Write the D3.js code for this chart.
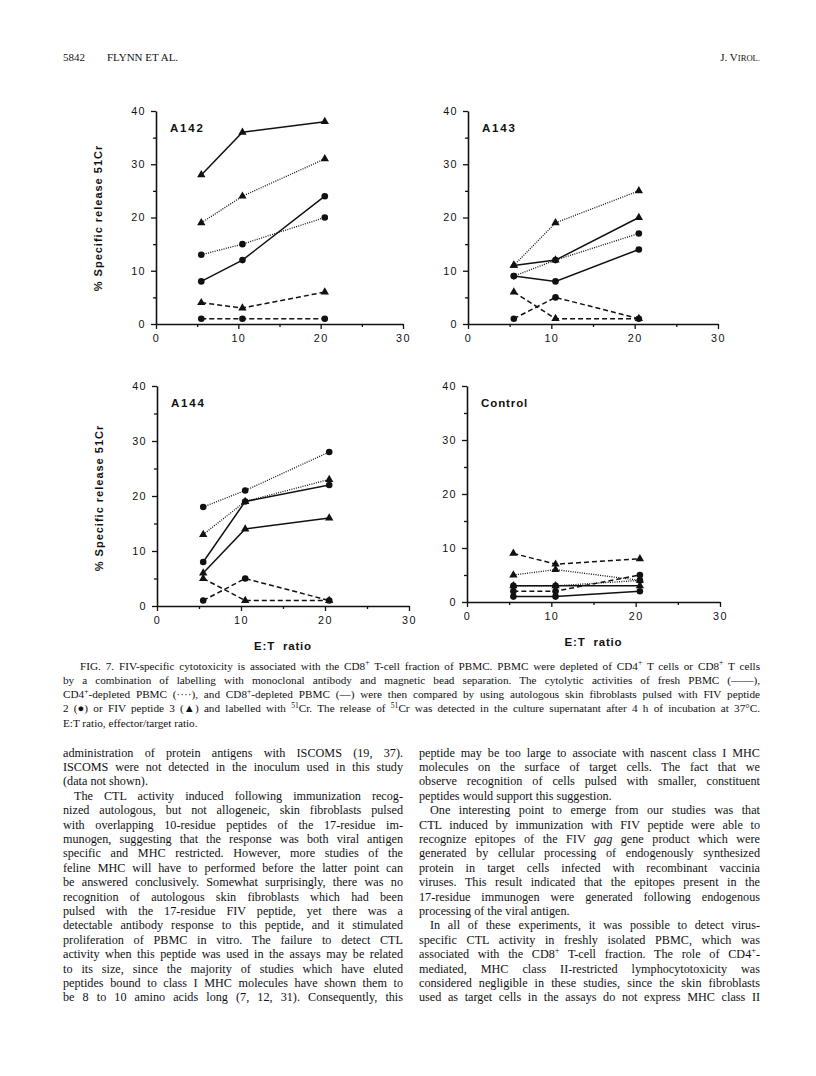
<!DOCTYPE html>
<html>
<head>
<meta charset="utf-8">
<script src="https://cdn.jsdelivr.net/npm/d3@7"></script>
<style>
	body { margin: 0; background: #fff; }
	svg { display: block; }
	.serif { font-family: "Liberation Serif", "Times New Roman", serif; fill: #111; }
	.sans { font-family: "Liberation Sans", Arial, sans-serif; fill: #111; }
</style>
</head>
<body>
<div id="page"></div>
<script>
// x values (E:T ratio)
const etRatio = [5.5, 10.5, 20.5];
const xTicks = [0, 10, 20, 30];
const xMinorTicks = [5, 15, 25];
const yTicks = [0, 10, 20, 30, 40];
const yMinorTicks = [5, 15, 25, 35];

const panelNames = ["A142", "A143", "A144", "Control"];
const cellTypes = ["fresh PBMC", "CD4+-depleted PBMC", "CD8+-depleted PBMC"];
const peptides = ["peptide 2", "peptide 3"];

// rows: fresh/p2, fresh/p3, CD4dep/p2, CD4dep/p3, CD8dep/p2, CD8dep/p3
const a142Release = [[8, 12, 24], [28, 36, 38], [13, 15, 20], [19, 24, 31], [1, 1, 1], [4, 3, 6]];
const a143Release = [[9, 8, 14], [11, 12, 20], [9, 12, 17], [11, 19, 25], [1, 5, 1], [6, 1, 1]];
const a144Release = [[8, 19, 22], [6, 14, 16], [18, 21, 28], [13, 19, 23], [1, 5, 1], [5, 1, 1]];
const controlRelease = [[1, 1, 2], [3, 3, 3], [3, 3, 4], [5, 6, 4], [2, 2, 5], [9, 7, 8]];

const yAxisTitle = "% Specific release 51Cr";
const xAxisTitle = "E:T\u00a0\u00a0ratio";

const headerLeft = ["5842", "FLYNN ET AL."];

const captionLines = [
	"FIG. 7. FIV-specific cytotoxicity is associated with the CD8^+^ T-cell fraction of PBMC. PBMC were depleted of CD4^+^ T cells or CD8^+^ T cells",
	"by a combination of labelling with monoclonal antibody and magnetic bead separation. The cytolytic activities of fresh PBMC (\u2014\u2014),",
	"CD4^+^-depleted PBMC (\u00b7\u00b7\u00b7\u00b7), and CD8^+^-depleted PBMC (\u2013\u2013) were then compared by using autologous skin fibroblasts pulsed with FIV peptide",
	"2 (\u25cf) or FIV peptide 3 (\u25b2) and labelled with ^51^Cr. The release of ^51^Cr was detected in the culture supernatant after 4 h of incubation at 37\u00b0C.",
	"E:T ratio, effector/target ratio.",
];

const leftColumnLines = [
	"administration of protein antigens with ISCOMS (19, 37).",
	"ISCOMS were not detected in the inoculum used in this study",
	"(data not shown).",
	"The CTL activity induced following immunization recog-",
	"nized autologous, but not allogeneic, skin fibroblasts pulsed",
	"with overlapping 10-residue peptides of the 17-residue im-",
	"munogen, suggesting that the response was both viral antigen",
	"specific and MHC restricted. However, more studies of the",
	"feline MHC will have to performed before the latter point can",
	"be answered conclusively. Somewhat surprisingly, there was no",
	"recognition of autologous skin fibroblasts which had been",
	"pulsed with the 17-residue FIV peptide, yet there was a",
	"detectable antibody response to this peptide, and it stimulated",
	"proliferation of PBMC in vitro. The failure to detect CTL",
	"activity when this peptide was used in the assays may be related",
	"to its size, since the majority of studies which have eluted",
	"peptides bound to class I MHC molecules have shown them to",
	"be 8 to 10 amino acids long (7, 12, 31). Consequently, this",
];
const leftParagraphStarts = [3];
const leftParagraphEnds = [2];

const rightColumnLines = [
	"peptide may be too large to associate with nascent class I MHC",
	"molecules on the surface of target cells. The fact that we",
	"observe recognition of cells pulsed with smaller, constituent",
	"peptides would support this suggestion.",
	"One interesting point to emerge from our studies was that",
	"CTL induced by immunization with FIV peptide were able to",
	"recognize epitopes of the FIV *gag* gene product which were",
	"generated by cellular processing of endogenously synthesized",
	"protein in target cells infected with recombinant vaccinia",
	"viruses. This result indicated that the epitopes present in the",
	"17-residue immunogen were generated following endogenous",
	"processing of the viral antigen.",
	"In all of these experiments, it was possible to detect virus-",
	"specific CTL activity in freshly isolated PBMC, which was",
	"associated with the CD8^+^ T-cell fraction. The role of CD4^+^-",
	"mediated, MHC class II-restricted lymphocytotoxicity was",
	"considered negligible in these studies, since the skin fibroblasts",
	"used as target cells in the assays do not express MHC class II",
];
const rightParagraphStarts = [4, 12];
const rightParagraphEnds = [3, 11];

const svg = d3
	.select("#page")
	.append("svg")
	.attr("width", 816)
	.attr("height", 1076)
	.attr("viewBox", [0, 0, 816, 1076]);

createHeader();

const panelBoxes = [
	{ left: 156, top: 111, width: 247, height: 213, yTitleY: 218 },
	{ left: 468, top: 111, width: 250, height: 213 },
	{ left: 157, top: 386, width: 252, height: 220, yTitleY: 498, xTitle: true },
	{ left: 467, top: 386, width: 253, height: 216, xTitle: true },
];
const panelData = [a142Release, a143Release, a144Release, controlRelease];

panelNames.forEach((name, i) => createPanel(name, panelData[i], panelBoxes[i]));

createTextBlock(captionLines, {
	x: 63,
	y: 669.5,
	width: 697,
	lineHeight: 14.3,
	fontSize: 11.2,
	indentLines: [0],
	indent: 17,
	ragged: [captionLines.length - 1],
});

createTextBlock(leftColumnLines, {
	x: 63,
	y: 756.5,
	width: 340,
	lineHeight: 14.4,
	fontSize: 12.2,
	indentLines: leftParagraphStarts,
	indent: 11,
	ragged: leftParagraphEnds,
});

createTextBlock(rightColumnLines, {
	x: 419,
	y: 756.5,
	width: 341,
	lineHeight: 14.4,
	fontSize: 12.2,
	indentLines: rightParagraphStarts,
	indent: 11,
	ragged: rightParagraphEnds,
});

function createHeader() {
	const header = svg.append("g").attr("class", "serif").attr("font-size", 11);
	header.append("text").attr("x", 63).attr("y", 61).text(headerLeft[0]);
	header.append("text").attr("x", 107).attr("y", 61).text(headerLeft[1]);
	const right = header
		.append("text")
		.attr("x", 760)
		.attr("y", 61)
		.attr("text-anchor", "end");
	right.append("tspan").text("J. V");
	right.append("tspan").attr("font-size", 8.6).text("IROL.");
}

function createPanel(name, release, box) {
	const x = d3.scaleLinear().domain([0, 30]).range([0, box.width]);
	const y = d3.scaleLinear().domain([0, 40]).range([box.height, 0]);

	const g = svg
		.append("g")
		.attr("transform", `translate(${box.left},${box.top})`);

	createAxes();
	createSeries();
	createLabels();

	function createAxes() {
		const tickFont = (sel) =>
			sel
				.selectAll("text")
				.attr("class", "sans")
				.attr("font-size", 10.8)
				.attr("letter-spacing", 1.4);

		g.append("g")
			.attr("transform", `translate(0,${box.height})`)
			.call(
				d3
					.axisBottom(x)
					.tickValues(xTicks)
					.tickSize(5)
					.tickSizeOuter(0)
					.tickPadding(5)
			)
			.call(tickFont);
		g.append("g")
			.attr("transform", `translate(0,${box.height})`)
			.call(
				d3
					.axisBottom(x)
					.tickValues(xMinorTicks)
					.tickSize(3)
					.tickSizeOuter(0)
					.tickFormat("")
			)
			.call((a) => a.select(".domain").remove());

		g.append("g")
			.call(
				d3
					.axisLeft(y)
					.tickValues(yTicks)
					.tickSize(5)
					.tickSizeOuter(0)
					.tickPadding(5)
			)
			.call(tickFont);
		g.append("g")
			.call(
				d3
					.axisLeft(y)
					.tickValues(yMinorTicks)
					.tickSize(3)
					.tickSizeOuter(0)
					.tickFormat("")
			)
			.call((a) => a.select(".domain").remove());

		g.selectAll(".domain").attr("stroke", "#111").attr("stroke-width", 1.6);
		g.selectAll(".tick line").attr("stroke", "#111").attr("stroke-width", 1.3);
	}

	function createSeries() {
		const line = d3
			.line()
			.x((_d, i) => x(etRatio[i]))
			.y((d) => y(d));

		const dashFor = (cell) =>
			cell === cellTypes[0] ? null : cell === cellTypes[1] ? "1,1.3" : "5,3";
		const widthFor = (cell) => (cell === cellTypes[1] ? 1.3 : 1.5);

		const series = release.map((values, i) => ({
			values,
			cell: cellTypes[Math.floor(i / 2)],
			peptide: peptides[i % 2],
		}));

		g.append("g")
			.selectAll("path")
			.data(series)
			.join("path")
			.attr("fill", "none")
			.attr("stroke", "#111")
			.attr("stroke-width", (d) => widthFor(d.cell))
			.attr("stroke-dasharray", (d) => dashFor(d.cell))
			.attr("d", (d) => line(d.values));

		const points = series.flatMap((s) =>
			s.values.map((v, i) => ({ x: etRatio[i], y: v, peptide: s.peptide }))
		);
		const triangle = d3.symbol().type(d3.symbolTriangle).size(30);

		g.append("g")
			.selectAll("path")
			.data(points.filter((p) => p.peptide === peptides[1]))
			.join("path")
			.attr("fill", "#111")
			.attr("transform", (d) => `translate(${x(d.x)},${y(d.y)})`)
			.attr("d", triangle);

		g.append("g")
			.selectAll("circle")
			.data(points.filter((p) => p.peptide === peptides[0]))
			.join("circle")
			.attr("fill", "#111")
			.attr("r", 3.3)
			.attr("cx", (d) => x(d.x))
			.attr("cy", (d) => y(d.y));
	}

	function createLabels() {
		g.append("text")
			.attr("class", "sans")
			.attr("font-weight", "bold")
			.attr("font-size", 11.5)
			.attr("letter-spacing", name === "Control" ? 0.9 : 1.8)
			.attr("x", 14)
			.attr("y", 21)
			.text(name);

		if (box.yTitleY) {
			g.append("text")
				.attr("class", "sans")
				.attr("font-weight", "bold")
				.attr("font-size", 11)
				.attr("letter-spacing", 1)
				.attr("text-anchor", "middle")
				.attr(
					"transform",
					`translate(${-54},${box.yTitleY - box.top}) rotate(-90)`
				)
				.text(yAxisTitle);
		}

		if (box.xTitle) {
			g.append("text")
				.attr("class", "sans")
				.attr("font-weight", "bold")
				.attr("font-size", 11.5)
				.attr("letter-spacing", 0.8)
				.attr("text-anchor", "middle")
				.attr("x", x(15))
				.attr("y", box.height + 44)
				.text(xAxisTitle);
		}
	}
}

function createTextBlock(lines, opts) {
	const block = svg
		.append("g")
		.attr("class", "serif")
		.attr("font-size", opts.fontSize);

	lines.forEach((str, i) => {
		const indent = opts.indentLines.includes(i) ? opts.indent : 0;
		const text = block
			.append("text")
			.attr("x", opts.x + indent)
			.attr("y", opts.y + i * opts.lineHeight);
		addRichText(text, str, opts.fontSize);

		if (opts.ragged.includes(i)) return;
		const natural = text.node().getComputedTextLength();
		const spaces = (text.text().match(/ /g) || []).length;
		if (spaces === 0) return;
		const extra = (opts.width - indent - natural) / spaces;
		text.attr("word-spacing", extra);
	});
}

function addRichText(text, str, fontSize) {
	const parts = str.split(/(\^[^^]+\^|\*[^*]+\*)/g).filter((p) => p !== "");
	const shift = fontSize * 0.38;
	let raised = false;
	parts.forEach((part) => {
		if (part.startsWith("^")) {
			text
				.append("tspan")
				.attr("dy", -shift)
				.attr("font-size", fontSize * 0.68)
				.text(part.slice(1, -1));
			raised = true;
		} else if (part.startsWith("*")) {
			text
				.append("tspan")
				.attr("dy", raised ? shift : null)
				.attr("font-style", "italic")
				.text(part.slice(1, -1));
			raised = false;
		} else {
			text
				.append("tspan")
				.attr("dy", raised ? shift : null)
				.text(part);
			raised = false;
		}
	});
}
</script>
</body>
</html>
